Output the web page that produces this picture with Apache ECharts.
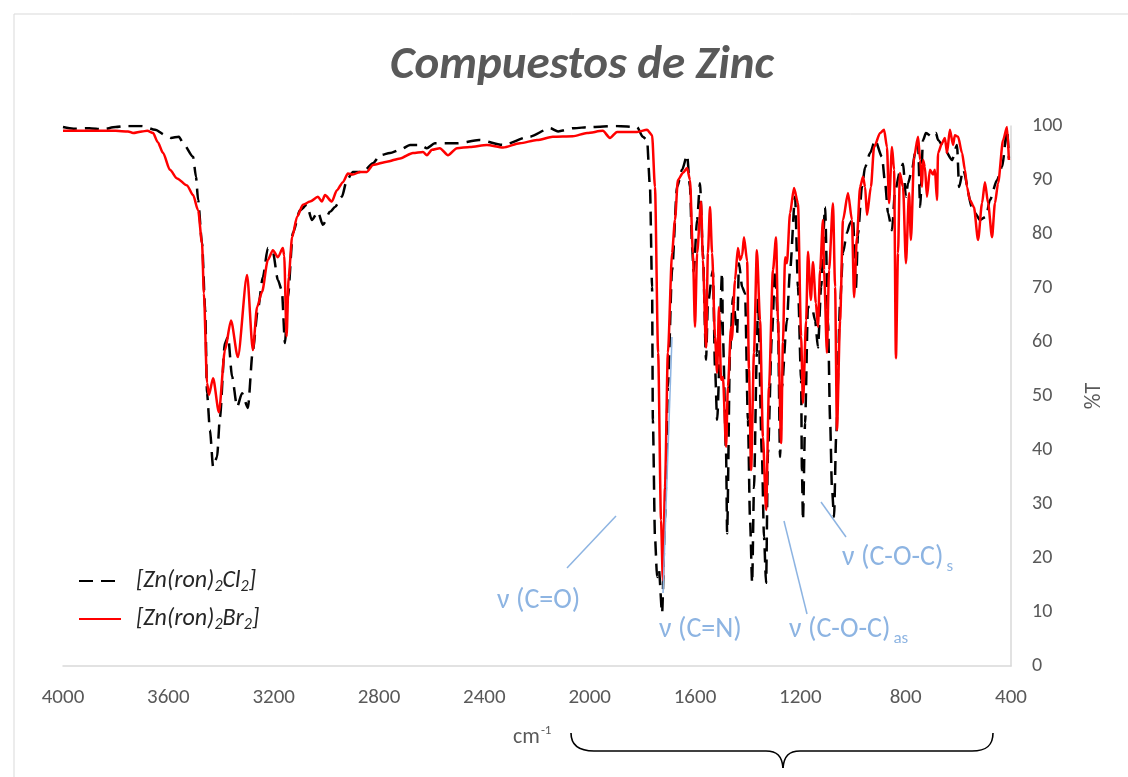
<!DOCTYPE html>
<html>
<head>
<meta charset="utf-8">
<script src="https://cdn.jsdelivr.net/npm/echarts@6/dist/echarts.min.js"></script>
<style>
html,body{margin:0;padding:0;background:#fff;}
#chart{width:1128px;height:777px;}
</style>
</head>
<body>
<div id="chart"></div>
<script>
// ---- data ----
var xTicks = [4000, 3600, 3200, 2800, 2400, 2000, 1600, 1200, 800, 400];
var yTicks = [0, 10, 20, 30, 40, 50, 60, 70, 80, 90, 100];

var seriesNames = ['[Zn(ron)2Cl2]', '[Zn(ron)2Br2]'];

var clWavenumber = [4000,3960,3900,3850,3800,3760,3700,3650,3610,3590,3560,3540,3506,3495,3487,3472,3460,3453,3442,3430,3415,3404,3385,3373,3358,3339,3320,3298,3279,3260,3241,3222,3203,3184,3169,3157,3146,3127,3100,3074,3055,3032,3013,2986,2967,2941,2922,2899,2861,2823,2796,2758,2720,2682,2644,2618,2588,2504,2420,2329,2230,2150,2120,2060,2000,1896,1820,1798,1782,1771,1763,1760,1752,1744,1737,1725,1714,1703,1687,1668,1649,1630,1619,1611,1605,1592,1581,1570,1558,1551,1532,1524,1516,1497,1494,1482,1478,1467,1456,1440,1433,1421,1410,1399,1391,1383,1376,1365,1361,1346,1338,1330,1323,1308,1296,1285,1277,1270,1251,1239,1220,1209,1197,1194,1190,1182,1171,1156,1144,1133,1121,1106,1095,1087,1080,1072,1064,1049,1038,1023,1011,1000,989,981,966,954,935,916,890,878,867,852,840,822,810,799,791,776,764,753,745,734,723,700,685,677,651,624,605,597,582,548,537,518,495,480,453,434,415,408];
var clTransmittance = [99.8,99.5,99.6,99.4,99.8,100,100,99.3,98.3,97.8,98.0,96.5,94.3,90.6,86.3,78.3,66,50.5,43.7,36.9,38.7,46.1,59.8,61,53.6,48,50.5,47.8,58.5,66,72,77.4,76.7,71.5,69.6,59.8,68.3,80.2,84.4,85.4,82.6,84.1,81.7,84.1,85.0,86.9,90.0,91.5,91.5,93.1,94.6,95.0,95.6,96.5,96.5,95.9,96.8,96.8,97.4,96.5,98.0,99.6,99.0,99.6,99.8,100,99.8,98.0,97.4,88.7,70.2,45.6,23.9,16.5,17.8,9.8,27,51.7,73.3,88.7,91.9,94.6,88.7,77.6,73,82.6,89.4,76.5,56.7,67.2,73.3,55.4,45.6,72.8,61,39.4,24.6,58,68.3,61.7,74.6,70.2,69,45.6,27,15.4,33,58,68,39.4,23.9,15.4,39.4,61,73.3,64,38.7,51.7,64,73.3,86.9,70.2,53,36.3,27,45,66.5,66.5,64,59,70.2,85,64,45.6,33,27.6,42.4,67.2,76.5,80.2,82,83,70,80,88.7,92.4,95,97.4,94.3,89.4,83.9,80.7,88,91.5,93,86.9,89.4,91.9,95,96.8,85,97.4,98.7,98,98.7,97.4,95.6,93.7,96.5,88.7,91.9,85,83.9,82.6,83.2,86.3,90,92.4,99.3,94];

var brWavenumber = [4000,3900,3800,3753,3734,3700,3680,3658,3640,3620,3594,3567,3529,3506,3487,3472,3465,3453,3446,3430,3408,3385,3362,3336,3301,3279,3263,3244,3222,3203,3184,3165,3160,3151,3143,3130,3111,3089,3062,3032,3017,3005,2979,2960,2937,2918,2899,2872,2846,2823,2770,2720,2671,2633,2618,2599,2569,2538,2504,2455,2390,2329,2265,2200,2140,2064,2010,1950,1923,1896,1820,1782,1763,1752,1740,1729,1722,1714,1703,1687,1676,1665,1646,1630,1619,1608,1600,1592,1577,1570,1558,1551,1543,1535,1524,1516,1509,1501,1494,1482,1475,1463,1460,1448,1437,1429,1421,1414,1402,1395,1387,1376,1365,1353,1342,1330,1319,1304,1292,1285,1273,1266,1258,1251,1239,1224,1209,1197,1190,1178,1171,1160,1152,1141,1133,1125,1114,1110,1099,1091,1076,1068,1061,1049,1038,1019,1004,996,985,973,962,954,947,932,920,897,882,871,863,852,844,837,829,822,810,799,787,780,768,753,745,738,734,727,719,708,696,689,681,677,662,651,643,632,620,613,601,586,575,567,556,541,525,510,499,487,472,461,449,430,415,408];
var brTransmittance = [99.1,99.1,99.1,99.0,98.7,99.0,99.1,98.7,97.0,95.0,91.9,90.3,89.0,87.2,84.4,78.3,69.0,52.4,50.2,53.3,47.0,58.5,64.0,57.2,72.4,58.5,66.5,69.3,75.2,77.0,75.7,77.4,76,61,72,79.4,83.2,85.4,86.0,86.9,86.0,87.2,86.0,88.1,89.6,91.2,91.0,91.5,91.5,92.8,93.4,94.0,95.0,95.2,94.6,95.6,95.9,94.6,95.9,96.1,96.5,96.0,96.8,97.4,98.0,98.1,98.7,99.1,97.8,98.9,98.9,99.3,98.3,88.7,58.0,27.0,15.9,33.0,58.0,76.5,82.6,90.0,91.3,92.2,90.0,76.5,62.8,76.5,86.0,75.2,59.0,76.5,85.0,76.5,61.0,54.3,66.5,53.0,53.5,40.6,51.7,62.8,60.4,71.5,77.4,75.2,76.0,79.4,75,55,36.3,58,77,64,42.4,28.9,51.7,73.3,79.4,64,41.3,60,75.7,74.6,83.9,88.5,85.7,61,48.7,64,76.7,67.8,74.8,67.2,62.8,73.3,82.6,73.3,58,73.3,85.7,70.2,43.7,64,82.6,87.6,82.6,68.3,79.4,88.7,90.6,88.7,83.5,88.7,96.1,98.7,99.3,96.1,85.7,96.1,91.9,57,76.5,91.3,88.7,74.6,87.6,78.9,94.3,98,93.7,88.7,93.7,92.4,86.9,91.9,91,91.9,86.3,95,96.8,97.8,95,99.3,96.5,98.3,98,95,91.9,88.7,86.3,85,78.9,85.7,89.6,85.7,79.4,85.7,89.4,97.4,99.8,93.7];

var annotationLabels = ['ν (C=O)', 'ν (C=N)', 'ν (C-O-C)', 'ν (C-O-C)'];
var annotationSubs = ['', '', 'as', 's'];

function pairs(xs, ys) {
  var out = [];
  for (var i = 0; i < xs.length; i++) out.push([xs[i], ys[i]]);
  return out;
}

var FONT = 'Carlito, Calibri, Lato, "Open Sans", sans-serif';
var ANN = '#8DB4E2';
var GRAY = '#595959';

var chart = echarts.init(document.getElementById('chart'), null, {renderer: 'canvas'});

function legendFmt(name) {
  if (name === seriesNames[0]) return '{i|[Zn(ron)}{s|2}{i|Cl}{s|2}{i|]}';
  return '{i|[Zn(ron)}{s|2}{i|Br}{s|2}{i|]}';
}

function curve(x1, y1, c1x, c1y, c2x, c2y, x2, y2) {
  return {type: 'bezierCurve', z: 10, silent: true,
    shape: {x1: x1, y1: y1, cpx1: c1x, cpy1: c1y, cpx2: c2x, cpy2: c2y, x2: x2, y2: y2},
    style: {fill: null, stroke: '#000000', lineWidth: 1.6}};
}
function seg(x1, y1, x2, y2, color, w) {
  return {type: 'line', z: 10, silent: true, shape: {x1: x1, y1: y1, x2: x2, y2: y2},
    style: {stroke: color, lineWidth: w}};
}
function annText(x, y, main, sub) {
  return {type: 'text', x: x, y: y, z: 10, silent: true, style: {
    text: '{a|' + main + '}' + (sub ? '{b|' + sub + '}' : ''),
    verticalAlign: 'middle',
    rich: {
      a: {fontSize: 28, lineHeight: 34, fontFamily: FONT, fill: ANN},
      b: {fontSize: 17, lineHeight: 17, fontFamily: FONT, fill: ANN, verticalAlign: 'bottom', padding: [0, 0, 0, 3]}
    }
  }};
}

var option = {
  backgroundColor: '#ffffff',
  animation: false,
  textStyle: {fontFamily: FONT},
  title: {
    text: 'Compuestos de Zinc',
    left: 577,
    textAlign: 'center',
    top: 38,
    textStyle: {fontFamily: FONT, fontSize: 47, fontWeight: 'bold', fontStyle: 'italic', color: GRAY}
  },
  grid: {left: 63, right: 117, top: 126, bottom: 111, containLabel: false},
  legend: {
    orient: 'vertical',
    left: 73,
    top: 564,
    itemWidth: 42,
    itemHeight: 14,
    itemGap: 12,
    data: seriesNames,
    formatter: legendFmt,
    itemStyle: {opacity: 0},
    textStyle: {
      padding: [0, 0, 0, 10],
      rich: {
        i: {fontFamily: FONT, fontSize: 24, lineHeight: 28, fontStyle: 'italic', color: '#262626'},
        s: {fontFamily: FONT, fontSize: 16, lineHeight: 16, fontStyle: 'italic', color: '#262626', verticalAlign: 'bottom'}
      }
    }
  },
  xAxis: {
    type: 'value',
    inverse: true,
    min: 400,
    max: 4000,
    interval: 400,
    axisLine: {show: true, lineStyle: {color: '#d9d9d9', width: 1.5}},
    axisTick: {show: false},
    splitLine: {show: false},
    axisLabel: {margin: 21, fontSize: 21, color: GRAY, fontFamily: FONT,
      formatter: function (v) { return xTicks.indexOf(v) >= 0 ? String(v) : ''; }}
  },
  yAxis: {
    type: 'value',
    position: 'right',
    min: 0,
    max: 100,
    interval: 10,
    name: '%T',
    nameLocation: 'middle',
    nameRotate: 90,
    nameGap: 72,
    nameTextStyle: {fontSize: 22, color: GRAY, fontFamily: FONT},
    axisLine: {show: true, lineStyle: {color: '#d9d9d9', width: 1.5}},
    axisTick: {show: false},
    splitLine: {show: false},
    axisLabel: {margin: 21, fontSize: 20, color: GRAY, fontFamily: FONT,
      formatter: function (v) { return yTicks.indexOf(v) >= 0 ? String(v) : ''; }}
  },
  series: [
    {
      name: seriesNames[0],
      type: 'line',
      data: pairs(clWavenumber, clTransmittance),
      showSymbol: false,
      symbol: 'none',
      smooth: 0.25,
      smoothMonotone: 'x',
      lineStyle: {color: '#000000', width: 2.5, type: [14, 8]},
      itemStyle: {color: '#000000'},
      z: 2
    },
    {
      name: seriesNames[1],
      type: 'line',
      data: pairs(brWavenumber, brTransmittance),
      showSymbol: false,
      symbol: 'none',
      smooth: 0.25,
      smoothMonotone: 'x',
      lineStyle: {color: '#ff0000', width: 2.5},
      itemStyle: {color: '#ff0000'},
      z: 3
    }
  ],
  graphic: [
    {type: 'rect', silent: true, z: 0, shape: {x: 14, y: 14, width: 1130, height: 790}, style: {fill: null, stroke: '#d9d9d9', lineWidth: 1}},
    // annotation leader lines
    seg(567, 568, 616, 516, ANN, 1.5),
    seg(663, 593, 672, 337, ANN, 1.5),
    seg(784, 521, 807, 614, ANN, 1.5),
    seg(821, 502, 846, 537, ANN, 1.5),
    // annotation texts
    annText(497, 601, annotationLabels[0], annotationSubs[0]),
    annText(659, 630, annotationLabels[1], annotationSubs[1]),
    annText(789, 630, annotationLabels[2], annotationSubs[2]),
    annText(842, 558, annotationLabels[3], annotationSubs[3]),
    // unit label with superscript
    {type: 'text', x: 513, y: 724, z: 10, silent: true, style: {
      text: '{a|cm}{b|-1}',
      rich: {a: {fontSize: 22, lineHeight: 26, fontFamily: FONT, fill: GRAY}, b: {fontSize: 13, lineHeight: 13, fontFamily: FONT, fill: GRAY, verticalAlign: 'top', padding: [0, 0, 0, 1]}}
    }},
    // brace
    curve(571, 733, 571, 745, 578, 751, 594, 751),
    seg(594, 751, 766, 751, '#000000', 1.6),
    curve(766, 751, 777, 751, 782, 756, 783, 768),
    curve(783, 768, 784, 756, 789, 751, 800, 751),
    seg(800, 751, 972, 751, '#000000', 1.6),
    curve(972, 751, 987, 751, 993, 745, 993, 733)
  ]
};
chart.setOption(option);
</script>
</body>
</html>
